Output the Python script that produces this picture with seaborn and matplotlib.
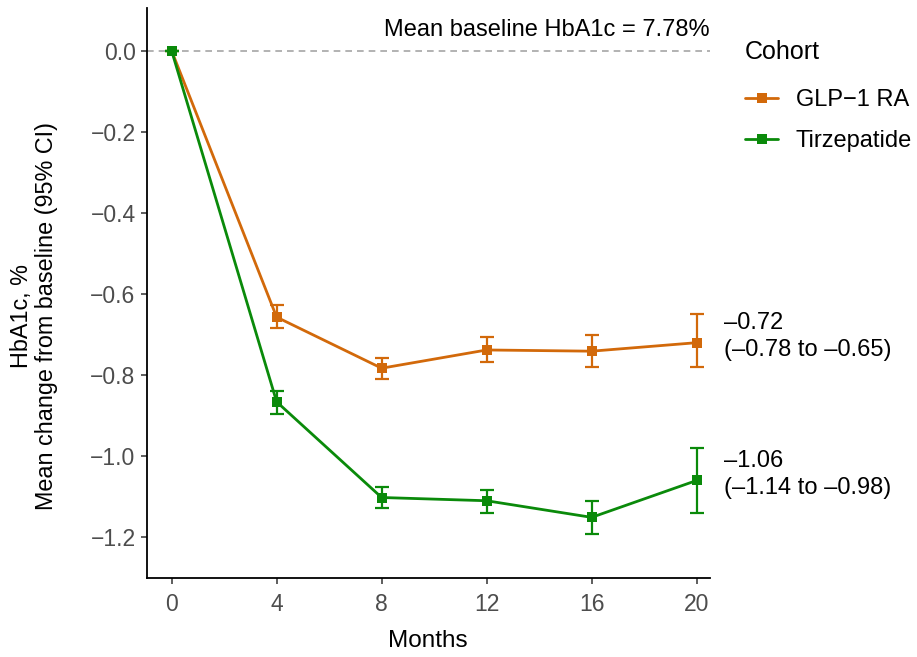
import numpy as np
import pandas as pd
import matplotlib
matplotlib.use("Agg")
import matplotlib.pyplot as plt
import seaborn as sns

# Mean change in HbA1c from baseline with 95% CI, by cohort
months = [0, 4, 8, 12, 16, 20]
glp1_mean = [0.0, -0.657, -0.783, -0.738, -0.741, -0.72]
glp1_lo = [0.0, -0.684, -0.809, -0.767, -0.781, -0.78]
glp1_hi = [0.0, -0.627, -0.757, -0.705, -0.700, -0.65]
tirz_mean = [0.0, -0.866, -1.102, -1.110, -1.151, -1.06]
tirz_lo = [0.0, -0.896, -1.129, -1.140, -1.193, -1.14]
tirz_hi = [0.0, -0.839, -1.076, -1.084, -1.110, -0.98]
cohorts = ["GLP\u22121 RA", "Tirzepatide"]
colors = {"GLP\u22121 RA": "#D2690A", "Tirzepatide": "#0A8A0A"}

df = pd.concat([
    pd.DataFrame({"Months": months, "mean": glp1_mean, "lo": glp1_lo,
                  "hi": glp1_hi, "Cohort": cohorts[0]}),
    pd.DataFrame({"Months": months, "mean": tirz_mean, "lo": tirz_lo,
                  "hi": tirz_hi, "Cohort": cohorts[1]}),
], ignore_index=True)

sns.set_theme(style="ticks")
plt.rcParams["font.family"] = ["Liberation Sans", "DejaVu Sans"]
plt.rcParams["text.color"] = "black"
plt.rcParams["axes.labelcolor"] = "black"

fig = plt.figure(figsize=(9.17, 6.57), dpi=100)
ax = fig.add_axes([0.160, 0.120, 0.614, 0.868])

ax.axhline(0, color="#A6A6A6", lw=1.2, ls=(0, (4, 3)), zorder=1)

for name in cohorts:
    d = df[df["Cohort"] == name]
    ax.errorbar(d["Months"], d["mean"],
                yerr=[d["mean"] - d["lo"], d["hi"] - d["mean"]],
                fmt="none", ecolor=colors[name], elinewidth=1.6,
                capsize=5, capthick=1.6, zorder=2)

sns.lineplot(data=df, x="Months", y="mean", hue="Cohort", hue_order=cohorts,
             palette=colors, marker="s", markersize=7.5, markeredgewidth=0,
             linewidth=2, ax=ax, zorder=3, legend=True)

ax.set_xlim(-0.95, 20.5)
ax.set_ylim(-1.301, 0.106)
ax.set_xticks(months)
ax.set_yticks([0.0, -0.2, -0.4, -0.6, -0.8, -1.0, -1.2])
ax.set_yticklabels([f"{v:.1f}".replace("-", "\u2212") for v in ax.get_yticks()])
ax.tick_params(axis="both", labelsize=16.5, labelcolor="#4D4D4D",
               color="#333333", length=4, width=1.1, pad=4)
ax.tick_params(axis="x", pad=7)
for s in ["top", "right"]:
    ax.spines[s].set_visible(False)
for s in ["left", "bottom"]:
    ax.spines[s].set_linewidth(1.3)
    ax.spines[s].set_color("black")

ax.set_xlabel("Months", fontsize=17.5, labelpad=10, color="black")
ax.set_ylabel("HbA1c, %\nMean change from baseline (95% CI)", fontsize=16.8,
              linespacing=1.1, color="black")
ax.yaxis.set_label_coords(-0.158, 0.46)

ax.text(20.5, 0.052, "Mean baseline HbA1c = 7.78%", ha="right", va="center",
        fontsize=17, color="black")

for m, lo, hi in [(glp1_mean[-1], glp1_lo[-1], glp1_hi[-1]),
                  (tirz_mean[-1], tirz_lo[-1], tirz_hi[-1])]:
    label = f"{m:.2f}\n({lo:.2f} to {hi:.2f})".replace("-", "\u2013")
    ax.text(21.05, m + 0.015, label, ha="left", va="center", fontsize=17,
            linespacing=1.25, clip_on=False, color="black")

leg = ax.legend(title="Cohort", loc="upper left",
                bbox_to_anchor=(745 / 917, 1 - 40 / 657),
                bbox_transform=fig.transFigure,
                frameon=False, fontsize=17, title_fontsize=18,
                handlelength=1.4, handletextpad=0.75, labelspacing=0.8,
                borderpad=0, borderaxespad=0, labelcolor="black")
leg.get_title().set_color("black")
leg._legend_box.align = "left"
# extra room between the legend title and its entries
leg._legend_box.sep = 18

fig.savefig("out.png", dpi=100)
